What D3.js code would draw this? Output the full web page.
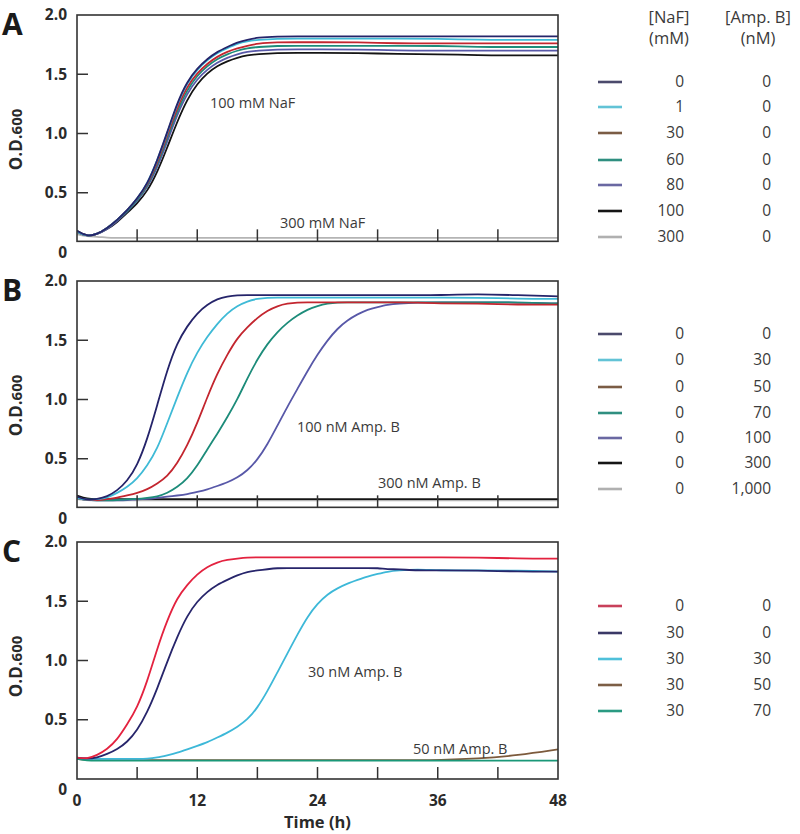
<!DOCTYPE html>
<html><head><meta charset="utf-8">
<script src="https://cdn.jsdelivr.net/npm/d3@7"></script>
<style>
body{margin:0;background:#fff;}
svg{display:block;font-family:"Open Sans","Noto Sans",sans-serif;}
</style></head>
<body><svg id="chart" width="800" height="834"></svg>
<script>
// ---------- DATA ----------
const timesA = [0,1,2,3,4,5,6,7,8,9,10,11,12,13,14,15,16,17,18,20,22,24,28,32,36,40,44,48];
const a_naf0   = [0.18,0.13,0.15,0.20,0.27,0.35,0.45,0.57,0.77,1.01,1.26,1.44,1.55,1.63,1.69,1.73,1.77,1.79,1.81,1.82,1.82,1.82,1.82,1.82,1.82,1.82,1.82,1.82];
const a_naf1   = [0.17,0.13,0.15,0.20,0.27,0.35,0.45,0.57,0.77,1.00,1.25,1.43,1.54,1.62,1.68,1.72,1.76,1.78,1.79,1.80,1.80,1.80,1.80,1.80,1.80,1.79,1.79,1.79];
const a_naf30  = [0.17,0.13,0.15,0.20,0.27,0.35,0.45,0.56,0.75,0.98,1.22,1.40,1.51,1.59,1.65,1.69,1.72,1.74,1.76,1.77,1.77,1.77,1.77,1.76,1.76,1.76,1.76,1.76];
const a_naf60  = [0.17,0.13,0.15,0.20,0.27,0.34,0.44,0.55,0.73,0.96,1.19,1.37,1.49,1.57,1.63,1.67,1.70,1.72,1.73,1.74,1.74,1.74,1.74,1.74,1.74,1.73,1.73,1.73];
const a_naf80  = [0.17,0.13,0.15,0.19,0.26,0.34,0.43,0.54,0.71,0.93,1.16,1.34,1.46,1.54,1.60,1.64,1.67,1.69,1.70,1.71,1.71,1.71,1.71,1.70,1.70,1.70,1.70,1.70];
const a_naf100 = [0.18,0.13,0.15,0.19,0.25,0.33,0.41,0.51,0.67,0.88,1.10,1.29,1.42,1.51,1.57,1.61,1.64,1.66,1.67,1.68,1.68,1.68,1.68,1.67,1.67,1.66,1.66,1.66];
const a_naf300 = [0.15,0.13,0.13,0.12,0.12,0.12,0.12,0.12,0.12,0.12,0.12,0.12,0.12,0.12,0.12,0.12,0.12,0.12,0.12,0.12,0.12,0.12,0.12,0.12,0.12,0.12,0.12,0.12];

const timesB = [0,1,2,3,4,5,6,7,8,9,10,11,12,13,14,15,16,17,18,19,20,21,22,23,24,25,26,27,28,29,30,31,32,34,36,40,44,48];
const b_amp0    = [0.18,0.15,0.16,0.18,0.23,0.31,0.44,0.66,0.95,1.25,1.48,1.62,1.73,1.80,1.85,1.87,1.88,1.88,1.88,1.88,1.88,1.88,1.88,1.88,1.88,1.88,1.88,1.88,1.88,1.88,1.88,1.88,1.88,1.88,1.88,1.89,1.88,1.87];
const b_amp30   = [0.17,0.15,0.16,0.17,0.21,0.26,0.33,0.44,0.58,0.80,1.02,1.23,1.40,1.53,1.64,1.73,1.79,1.83,1.85,1.86,1.86,1.86,1.86,1.86,1.86,1.86,1.86,1.86,1.86,1.86,1.86,1.86,1.86,1.86,1.86,1.86,1.85,1.85];
const b_amp50   = [0.17,0.15,0.15,0.16,0.17,0.19,0.21,0.24,0.29,0.35,0.46,0.61,0.80,1.02,1.22,1.38,1.52,1.61,1.69,1.75,1.79,1.81,1.82,1.82,1.82,1.82,1.82,1.82,1.82,1.82,1.82,1.82,1.82,1.82,1.81,1.81,1.80,1.80];
const b_amp70   = [0.17,0.15,0.15,0.15,0.15,0.16,0.16,0.17,0.18,0.21,0.26,0.33,0.44,0.58,0.71,0.85,1.00,1.18,1.34,1.47,1.57,1.65,1.71,1.76,1.79,1.81,1.82,1.82,1.82,1.82,1.82,1.82,1.82,1.82,1.82,1.82,1.82,1.81];
const b_amp100  = [0.17,0.15,0.15,0.15,0.15,0.15,0.16,0.16,0.17,0.18,0.19,0.20,0.22,0.24,0.27,0.30,0.34,0.40,0.49,0.62,0.78,0.94,1.09,1.24,1.38,1.50,1.60,1.67,1.72,1.76,1.78,1.80,1.81,1.82,1.82,1.82,1.82,1.81];
const b_amp300  = [0.19,0.16,0.16,0.16,0.16,0.16,0.16,0.16,0.16,0.16,0.16,0.16,0.16,0.16,0.16,0.16,0.16,0.16,0.16,0.16,0.16,0.16,0.16,0.16,0.16,0.16,0.16,0.16,0.16,0.16,0.16,0.16,0.16,0.16,0.16,0.16,0.16,0.16];
const b_amp1000 = [0.16,0.15,0.15,0.15,0.15,0.15,0.15,0.15,0.15,0.15,0.15,0.15,0.15,0.15,0.15,0.15,0.15,0.15,0.15,0.15,0.15,0.15,0.15,0.15,0.15,0.15,0.15,0.15,0.15,0.15,0.15,0.15,0.15,0.15,0.15,0.15,0.15,0.15];

const timesC = timesB;
const c_0_0   = [0.18,0.17,0.20,0.25,0.33,0.46,0.60,0.82,1.10,1.34,1.53,1.64,1.73,1.79,1.83,1.85,1.86,1.87,1.87,1.87,1.87,1.87,1.87,1.87,1.87,1.87,1.87,1.87,1.87,1.87,1.87,1.87,1.87,1.87,1.87,1.87,1.86,1.86];
const c_30_0  = [0.18,0.17,0.18,0.21,0.25,0.31,0.41,0.56,0.76,0.99,1.20,1.38,1.50,1.58,1.64,1.68,1.72,1.75,1.76,1.77,1.78,1.78,1.78,1.78,1.78,1.78,1.78,1.78,1.78,1.78,1.78,1.77,1.77,1.76,1.76,1.76,1.75,1.75];
const c_30_30 = [0.18,0.17,0.17,0.17,0.17,0.17,0.17,0.17,0.18,0.20,0.22,0.25,0.28,0.31,0.35,0.39,0.44,0.50,0.60,0.74,0.90,1.06,1.22,1.37,1.48,1.56,1.61,1.65,1.68,1.71,1.73,1.75,1.76,1.77,1.76,1.76,1.76,1.75];
const c_30_50 = [0.17,0.16,0.16,0.16,0.16,0.16,0.16,0.16,0.16,0.16,0.16,0.16,0.16,0.16,0.16,0.16,0.16,0.16,0.16,0.16,0.16,0.16,0.16,0.16,0.16,0.16,0.16,0.16,0.16,0.16,0.16,0.16,0.16,0.16,0.16,0.17,0.20,0.25];
const c_30_70 = [0.17,0.155,0.155,0.155,0.155,0.155,0.155,0.155,0.155,0.155,0.155,0.155,0.155,0.155,0.155,0.155,0.155,0.155,0.155,0.155,0.155,0.155,0.155,0.155,0.155,0.155,0.155,0.155,0.155,0.155,0.155,0.155,0.155,0.155,0.155,0.155,0.155,0.155];

const legendA_naf = ["0","1","30","60","80","100","300"];
const legendA_amp = ["0","0","0","0","0","0","0"];
const legendB_naf = ["0","0","0","0","0","0","0"];
const legendB_amp = ["0","30","50","70","100","300","1,000"];
const legendC_naf = ["0","30","30","30","30"];
const legendC_amp = ["0","0","30","50","70"];

const yTicks = [0, 0.5, 1.0, 1.5, 2.0];
const yTickLabels = ["0","0.5","1.0","1.5","2.0"];
const xTicks = [0,6,12,18,24,30,36,42,48];
const xTickLabels = ["0","","12","","24","","36","","48"];

// ---------- STYLE / LAYOUT ----------
const navy="#25246a", cyan="#3fbad6", red="#c3262f", teal="#1d8c7a", purple="#5858a8", black="#141414", gray="#b4b4b4";
const panels = [
  { letter:"A", y0:252, yBottom:0.09, times:timesA,
    series:[a_naf0,a_naf1,a_naf30,a_naf60,a_naf80,a_naf100,a_naf300],
    colors:[navy,cyan,red,teal,purple,black,gray],
    swatches:["#4b4a6c","#62c3d6","#7b5c44","#2f8f80","#6a68a2","#151515","#b0b0b0"],
    order:[6,5,4,3,2,1,0],
    naf:legendA_naf, amp:legendA_amp, rows:[82,107,133,160,185,211,237],
    notes:[{t:"100 mM NaF",x:210,y:108},{t:"300 mM NaF",x:280,y:228}], header:true },
  { letter:"B", y0:518, yBottom:0.09, times:timesB,
    series:[b_amp0,b_amp30,b_amp50,b_amp70,b_amp100,b_amp300,b_amp1000],
    colors:[navy,cyan,red,teal,purple,black,gray],
    swatches:["#4b4a6c","#62c3d6","#7b5c44","#2f8f80","#6a68a2","#151515","#b0b0b0"],
    order:[6,5,4,3,2,1,0],
    naf:legendB_naf, amp:legendB_amp, rows:[334,360,387,413,438,463,489],
    notes:[{t:"100 nM Amp. B",x:297,y:432},{t:"300 nM Amp. B",x:378,y:488}] },
  { letter:"C", y0:779, yBottom:0.0, times:timesC,
    series:[c_0_0,c_30_0,c_30_30,c_30_50,c_30_70],
    colors:["#e3223f","#27256b","#3db8d8","#7c5a3c","#1a9878"],
    swatches:["#c8405a","#3a3866","#4fc0da","#7c5e45","#2a9a82"],
    order:[3,4,2,1,0],
    naf:legendC_naf, amp:legendC_amp, rows:[606,633,659,685,711],
    notes:[{t:"30 nM Amp. B",x:308,y:677},{t:"50 nM Amp. B",x:413,y:754}], xlabels:true }
];

const svg = d3.select("#chart");
const x = d3.scaleLinear().domain([0,48]).range([77,558]);
const txt = "#3a3a3a";

panels.forEach((p,pi)=>{
  const y = d3.scaleLinear().domain([0,2]).range([p.y0, p.y0-237]);
  const top = y(2.0), bot = y(p.yBottom), left = x(0), right = x(48);
  const g = svg.append("g");
  const clipId = "clip"+pi;
  g.append("clipPath").attr("id",clipId).append("rect")
    .attr("x",left).attr("y",top).attr("width",right-left).attr("height",bot-top);

  const line = d3.line().x(d=>x(d[0])).y(d=>y(d[1])).curve(d3.curveBasis);
  const lg = g.append("g").attr("clip-path",`url(#${clipId})`);
  p.order.forEach(i=>{
    const s = p.series[i];
    lg.append("path").datum(p.times.map((t,k)=>[t,s[k]]))
      .attr("d",line).attr("fill","none").attr("stroke",p.colors[i])
      .attr("stroke-width",1.8).attr("stroke-linejoin","round");
  });

  g.append("rect").attr("x",left).attr("y",top).attr("width",right-left).attr("height",bot-top)
    .attr("fill","none").attr("stroke","#333").attr("stroke-width",1.6);

  yTicks.forEach((v,i)=>{
    if (v>0 && v<2) g.append("line").attr("x1",left).attr("x2",left+11).attr("y1",y(v)).attr("y2",y(v))
      .attr("stroke","#333").attr("stroke-width",1.5);
    const ly = v===0 ? bot+11 : y(v);
    g.append("text").attr("x",67).attr("y",ly).attr("dy","0.35em").attr("text-anchor","end")
      .attr("font-size",15.5).attr("font-weight",700).attr("fill","#2a2a2a").text(yTickLabels[i]);
  });
  xTicks.forEach((t,i)=>{
    if (t>0 && t<48) g.append("line").attr("x1",x(t)).attr("x2",x(t)).attr("y1",bot).attr("y2",bot-12)
      .attr("stroke","#333").attr("stroke-width",1.5);
    if (p.xlabels && xTickLabels[i]) g.append("text").attr("x",x(t)).attr("y",bot+27).attr("text-anchor","middle")
      .attr("font-size",15.5).attr("font-weight",700).attr("fill","#2a2a2a").text(xTickLabels[i]);
  });
  if (p.xlabels) g.append("text").attr("x",x(24)).attr("y",bot+49).attr("text-anchor","middle")
    .attr("font-size",16.5).attr("font-weight",700).attr("fill","#2a2a2a").text("Time (h)");

  const yt = g.append("text").attr("transform",`translate(22,${y(0.95)}) rotate(-90)`)
    .attr("text-anchor","middle").attr("font-size",17).attr("font-weight",700).attr("fill","#2a2a2a");
  yt.append("tspan").text("O.D.");
  yt.append("tspan").attr("font-size",15).text("600");

  g.append("text").attr("x",2).attr("y",top+20).attr("font-size",30).attr("font-weight",700)
    .attr("fill","#1a1a1a").text(p.letter);

  p.notes.forEach(n=>g.append("text").attr("x",n.x).attr("y",n.y).attr("font-size",14.5)
    .attr("fill",txt).text(n.t));

  if (p.header){
    [["[NaF]",669,17],["(mM)",669,38],["[Amp. B]",758,17],["(nM)",758,38]].forEach(h=>
      g.append("text").attr("x",h[1]).attr("y",h[2]).attr("dy","0.35em").attr("text-anchor","middle")
        .attr("font-size",16.5).attr("fill",txt).text(h[0]));
  }
  p.rows.forEach((ry,i)=>{
    g.append("line").attr("x1",598).attr("x2",622).attr("y1",ry).attr("y2",ry)
      .attr("stroke",p.swatches[i]).attr("stroke-width",2.6);
    g.append("text").attr("x",684).attr("y",ry).attr("dy","0.35em").attr("text-anchor","end")
      .attr("font-size",15.5).attr("fill",txt).text(p.naf[i]);
    g.append("text").attr("x",771).attr("y",ry).attr("dy","0.35em").attr("text-anchor","end")
      .attr("font-size",15.5).attr("fill",txt).text(p.amp[i]);
  });
});
</script></body></html>
